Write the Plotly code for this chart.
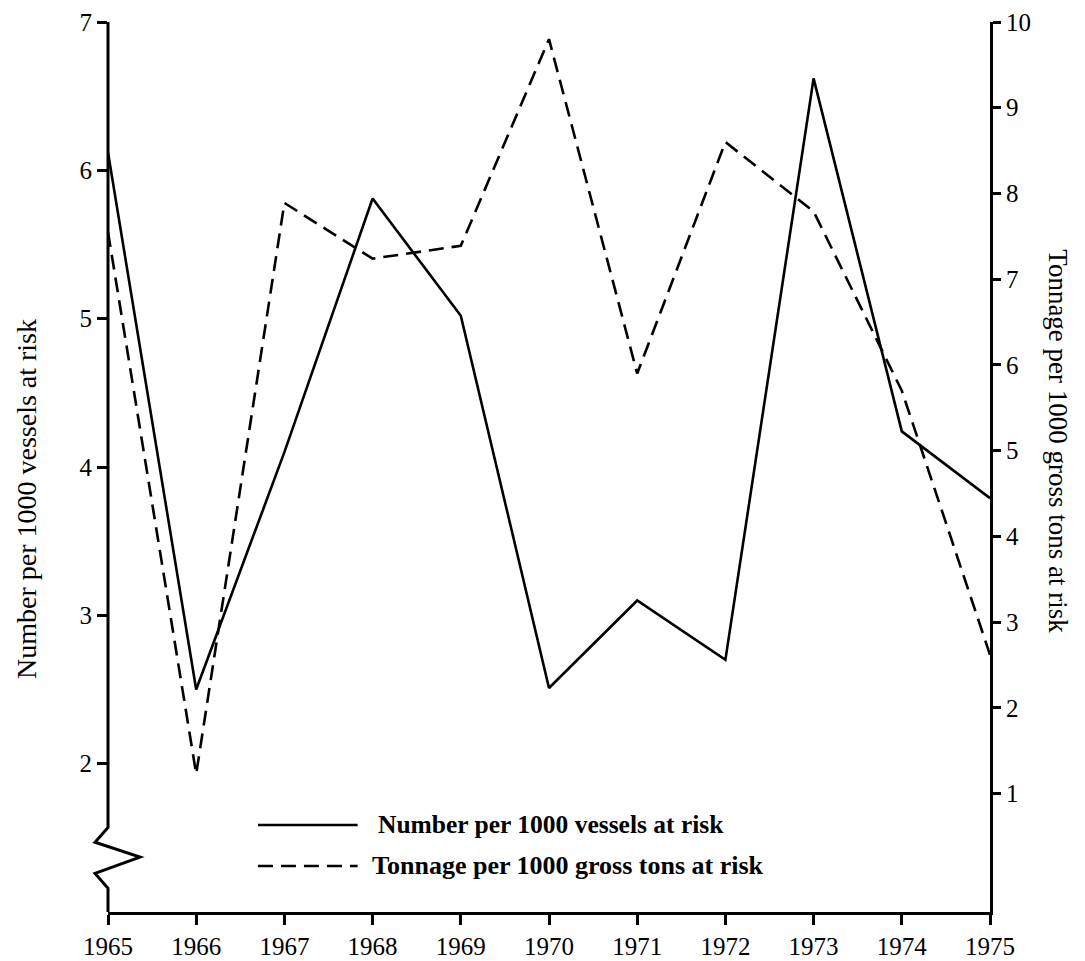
import plotly.graph_objects as go

years = [1965, 1966, 1967, 1968, 1969, 1970, 1971, 1972, 1973, 1974, 1975]
number_per_1000_vessels = [6.12, 2.50, 4.10, 5.81, 5.02, 2.51, 3.10, 2.70, 6.62, 4.24, 3.79]
tonnage_per_1000_gross_tons = [7.55, 1.23, 7.89, 7.24, 7.39, 9.80, 5.90, 8.60, 7.79, 5.70, 2.62]

left_ticks = [2, 3, 4, 5, 6, 7]
right_ticks = [1, 2, 3, 4, 5, 6, 7, 8, 9, 10]

name_number = "Number per 1000 vessels at risk"
name_tonnage = "Tonnage per 1000 gross tons at risk"

SERIF = "Liberation Serif"

fig = go.Figure()
fig.add_trace(go.Scatter(x=years, y=number_per_1000_vessels, mode="lines",
                         name=name_number, line=dict(color="black", width=2.6),
                         yaxis="y", showlegend=False))
fig.add_trace(go.Scatter(x=years, y=tonnage_per_1000_gross_tons, mode="lines",
                         name=name_tonnage, line=dict(color="black", width=2.6, dash="15px,8px"),
                         yaxis="y2", showlegend=False))

axis_common = dict(showgrid=False, zeroline=False, ticks="outside", tickwidth=3,
                   tickcolor="black", automargin=False,
                   tickfont=dict(family=SERIF, size=25, color="black"))

# page has an 8px body margin, so the figure is sized to fit inside the window
fig.update_layout(
    width=1077, height=953,
    margin=dict(l=100, r=95, t=14, b=49, autoexpand=False),
    paper_bgcolor="white", plot_bgcolor="white",
    xaxis=dict(range=[1965, 1975], tickvals=years, ticklen=10, showline=True,
               linewidth=3, linecolor="black", **axis_common),
    yaxis=dict(range=[1, 7], tickvals=left_ticks, ticklen=10, showline=False,
               **axis_common),
    yaxis2=dict(range=[-0.38, 10.0], tickvals=right_ticks, ticklen=8, overlaying="y",
                side="right", showline=True, linewidth=3, linecolor="black",
                **axis_common),
)

# left axis line with zigzag break
fig.add_shape(type="path", xref="paper", yref="y",
              path="M 0,7 L 0,1.57 L -0.0147,1.47 L 0.0363,1.37 L -0.0147,1.26 L 0,1.16 L 0,1",
              line=dict(color="black", width=3))

# axis titles
fig.add_annotation(text=name_number, xref="paper", yref="paper", x=-0.093, y=0.464,
                   xanchor="center", yanchor="middle",
                   textangle=-90, showarrow=False,
                   font=dict(family=SERIF, size=28, color="black"))
fig.add_annotation(text=name_tonnage, xref="paper", yref="paper", x=1.077, y=0.529,
                   xanchor="center", yanchor="middle",
                   textangle=90, showarrow=False,
                   font=dict(family=SERIF, size=27, color="black"))

# legend drawn manually
fig.add_shape(type="line", xref="paper", yref="paper", x0=0.170, x1=0.283, y0=0.0978, y1=0.0978,
              line=dict(color="black", width=2.6))
fig.add_shape(type="line", xref="paper", yref="paper", x0=0.170, x1=0.283, y0=0.0517, y1=0.0517,
              line=dict(color="black", width=2.6, dash="15px,8px"))
fig.add_annotation(text="<b>" + name_number + "</b>", xref="paper", yref="paper",
                   x=0.304, y=0.0978, xanchor="left", yanchor="middle", showarrow=False,
                   font=dict(family=SERIF, size=25.5, color="black"))
fig.add_annotation(text="<b>" + name_tonnage + "</b>", xref="paper", yref="paper",
                   x=0.297, y=0.0517, xanchor="left", yanchor="middle", showarrow=False,
                   font=dict(family=SERIF, size=26, color="black"))

fig.write_html("out.html")
